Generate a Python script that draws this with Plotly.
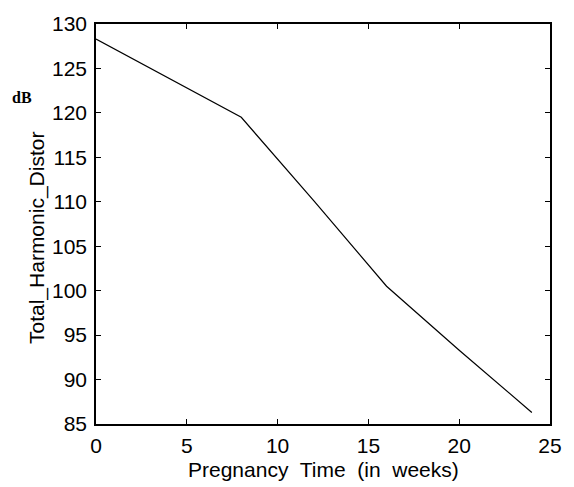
import plotly.graph_objects as go

weeks = [0, 8, 12, 16, 20, 24]
thd_db = [128.3, 119.5, 110.1, 100.5, 93.3, 86.3]

x_ticks = [0, 5, 10, 15, 20, 25]
y_ticks = [85, 90, 95, 100, 105, 110, 115, 120, 125, 130]

fig = go.Figure()
fig.add_trace(go.Scatter(x=weeks, y=thd_db, mode="lines",
                         line=dict(color="black", width=1.2), showlegend=False))

axis_common = dict(showline=True, mirror="ticks", linecolor="black", linewidth=1.5,
                   ticks="inside", ticklen=5, tickcolor="black", tickwidth=1,
                   showgrid=False, zeroline=False,
                   tickfont=dict(family="Liberation Sans, Arial", size=21, color="black"))

fig.update_layout(
    width=574, height=487,
    margin=dict(l=96, r=15, t=17, b=63),
    paper_bgcolor="white", plot_bgcolor="white",
    xaxis=dict(range=[0, 25], tickvals=x_ticks, ticklabelstandoff=2, **axis_common),
    yaxis=dict(range=[85, 130], tickvals=y_ticks, ticklabelstandoff=3, **axis_common),
    annotations=[
        dict(text="Pregnancy&nbsp; Time&nbsp; (in&nbsp; weeks)", xref="paper", yref="paper",
             x=0.5, y=0, yshift=-45, xanchor="center", yanchor="middle", showarrow=False,
             font=dict(family="Liberation Sans, Arial", size=21, color="black")),
        dict(text="Total_Harmonic_Distor", xref="paper", yref="paper",
             x=0, xshift=-59, y=0.5, yshift=-14, textangle=-90, xanchor="center", yanchor="middle",
             showarrow=False,
             font=dict(family="Liberation Sans, Arial", size=21, color="black")),
        dict(text="<b>dB</b>", xref="paper", yref="paper",
             x=0, xshift=-74, y=1, yshift=-73, xanchor="center", yanchor="middle",
             showarrow=False,
             font=dict(family="Liberation Serif, Times New Roman", size=16, color="black")),
    ],
)

fig.write_html("out.html")
